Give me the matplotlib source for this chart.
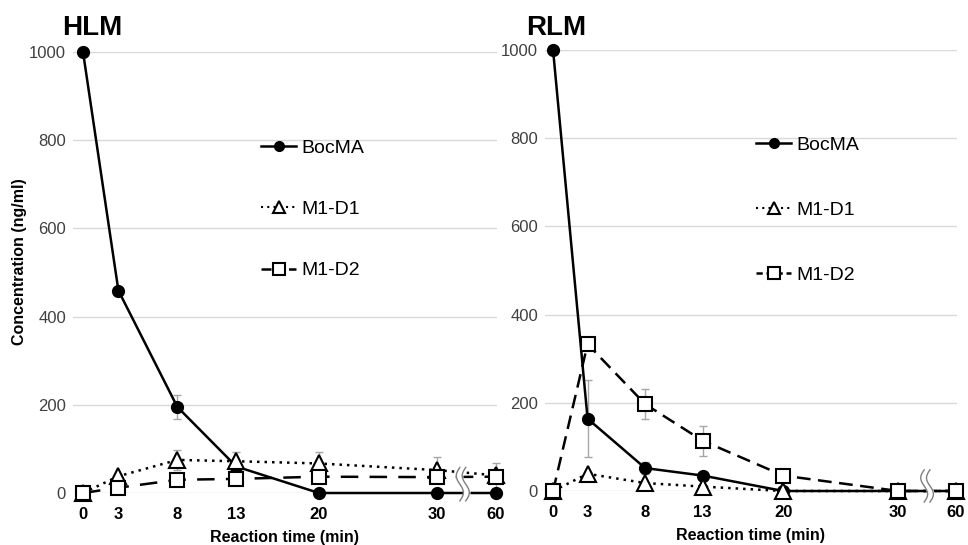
import numpy as np
import matplotlib
matplotlib.use("Agg")
import matplotlib.pyplot as plt
from matplotlib.lines import Line2D

plt.rcParams['font.family'] = ['Liberation Sans', 'DejaVu Sans']

times = [0, 3, 8, 13, 20, 30, 60]
tick_labels = ['0', '3', '8', '13', '20', '30', '60']

hlm_bocma = [1000, 459, 195, 60, 0, 0, 0]
hlm_bocma_err = [0, 6, 28, 6, 0, 0, 0]
hlm_d1 = [0, 38, 75, 72, 67, 52, 40]
hlm_d1_err = [0, 4, 23, 21, 25, 30, 28]
hlm_d2 = [0, 12, 30, 32, 37, 36, 37]
hlm_d2_err = [8, 3, 3, 3, 3, 4, 4]

rlm_bocma = [1000, 164, 52, 35, 0, 0, 0]
rlm_bocma_err = [0, 88, 14, 5, 0, 0, 0]
rlm_d1 = [0, 39, 18, 10, 0, 0, 0]
rlm_d1_err = [0, 3, 3, 3, 0, 0, 0]
rlm_d2 = [0, 333, 197, 114, 35, 0, 0]
rlm_d2_err = [0, 5, 34, 34, 5, 3, 3]


def xpos(t):
    # broken axis: 60 min drawn just after 30
    return t if t <= 30 else 35


xs = [xpos(t) for t in times]

fig = plt.figure(figsize=(9.68, 5.45), dpi=100)
W, H = 968, 545


def panel(rect, xlim, title, series, d2_dash, leg_dash, leg_xy, leg_sp,
          title_x, brk_x, brk_y):
    l, t, r, b = rect
    ax = fig.add_axes([l / W, 1 - b / H, (r - l) / W, (b - t) / H])
    ax.set_xlim(*xlim)
    ax.set_ylim(0, 1000)
    for s in ax.spines.values():
        s.set_visible(False)
    ax.set_yticks(range(0, 1001, 200))
    ax.yaxis.grid(True, color='#d9d9d9', lw=1)
    ax.set_axisbelow(True)
    ax.tick_params(length=0, pad=10)
    ax.tick_params(axis='y', labelsize=12, labelcolor='#404040', pad=5)
    ax.set_xticks(xs)
    ax.set_xticklabels(tick_labels, fontweight='bold', fontsize=12)
    ax.set_xlabel('Reaction time (min)', fontweight='bold', fontsize=11.5, labelpad=6)

    (b_y, b_e), (d1_y, d1_e), (d2_y, d2_e) = series
    styles = [
        dict(ls='-', marker='o', ms=8, mfc='black'),
        dict(ls=(0, (1, 2)), marker='^', ms=11, mfc='white'),
        dict(ls=(0, d2_dash), marker='s', ms=10, mfc='white'),
    ]
    for (y, e), st in zip([(b_y, b_e), (d1_y, d1_e), (d2_y, d2_e)], styles):
        ax.errorbar(xs, y, yerr=e, fmt='none', ecolor='#a6a6a6', elinewidth=1,
                    capsize=3, capthick=1, zorder=2, clip_on=False)
        ax.plot(xs, y, color='black', lw=1.8, mec='black', mew=1.5,
                ls=st['ls'], marker=st['marker'], ms=st['ms'], mfc=st['mfc'],
                zorder=3, clip_on=False)

    # axis break marks
    yy = np.linspace(brk_y[0], brk_y[1], 60)
    span = brk_y[1] - brk_y[0]
    wig = 0.3 * np.sin((yy - brk_y[0]) / span * 2 * np.pi)
    ax.fill_betweenx(yy, brk_x - 0.25 + wig, brk_x + 0.25 + wig, color='white',
                     zorder=4, clip_on=False)
    for dx in (-0.25, 0.25):
        ax.plot(brk_x + dx + wig, yy, color='#7f7f7f', lw=1, zorder=5, clip_on=False)

    handles = [
        Line2D([], [], color='black', lw=1.8, ls='-', marker='o', ms=7, mfc='black'),
        Line2D([], [], color='black', lw=1.5, ls=(0, (1, 2)), marker='^', ms=8,
               mfc='white', mew=1.5),
        Line2D([], [], color='black', lw=1.8, ls=(0, leg_dash), marker='s', ms=8,
               mfc='white', mew=1.5),
    ]
    ax.legend(handles, ['BocMA', 'M1-D1', 'M1-D2'], loc='upper left',
              bbox_to_anchor=(leg_xy[0] / W, 1 - leg_xy[1] / H),
              bbox_transform=fig.transFigure, frameon=False, fontsize=14,
              handlelength=1.8, handletextpad=0.3, labelspacing=leg_sp,
              borderpad=0, borderaxespad=0)
    fig.text(title_x / W, 1 - 35 / H, title, fontsize=20, fontweight='bold',
             va='baseline', ha='left')
    return ax


ax1 = panel((73, 52, 497, 493), (-0.85, 35.1), 'HLM',
            [(hlm_bocma, hlm_bocma_err), (hlm_d1, hlm_d1_err), (hlm_d2, hlm_d2_err)],
            (7, 4.5), (4, 1.5), (261, 139), 2.25, 62, 32.2, (-18, 58))
ax1.set_ylabel('Concentration (ng/ml)', fontweight='bold', fontsize=11.5)
ax1.yaxis.set_label_coords((27 - 73) / 424, (493 - 262) / 441)

ax2 = panel((545, 50, 957, 491), (-0.7, 35.1), 'RLM',
            [(rlm_bocma, rlm_bocma_err), (rlm_d1, rlm_d1_err), (rlm_d2, rlm_d2_err)],
            (5.5, 3), (2.5, 1.5), (756, 136), 2.45, 526, 32.5, (-25, 48))

fig.savefig('out.png', dpi=100)
